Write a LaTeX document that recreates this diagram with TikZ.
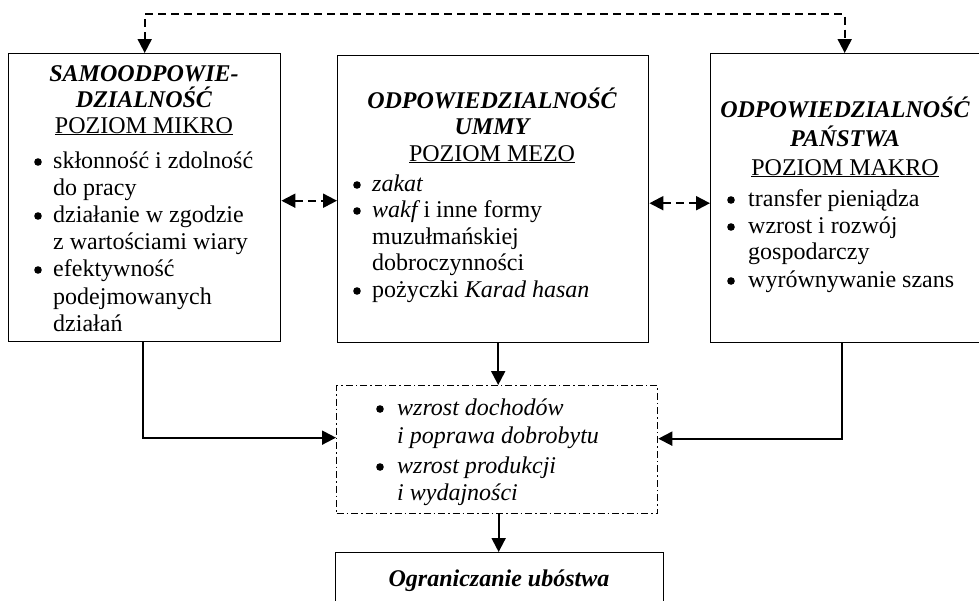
\documentclass[tikz,border=0pt]{standalone}
\usepackage{fontspec}
\setmainfont{Liberation Serif}
\usetikzlibrary{arrows.meta}
\newcommand\fs{\fontsize{24}{27}\selectfont}
\begin{document}
\begin{tikzpicture}[x=1pt,y=-1pt,
  box/.style={draw, line width=1.4pt, inner sep=0, anchor=north west},
  dd/.style={draw, line width=1.3pt, dash pattern=on 7pt off 3pt on 1.5pt off 3pt, inner sep=0, anchor=north west},
  tl/.style={font=\fs\bfseries\itshape, anchor=base, inner sep=0},
  sub/.style={font=\fs, anchor=base, inner sep=0},
  ln/.style={font=\fs, anchor=base west, inner sep=0},
  dot/.style={fill=black},
  conn/.style={line width=2pt, -{Triangle[length=14pt,width=14pt]}},
  dsh/.style={line width=2pt, dash pattern=on 8pt off 5pt, {Triangle[length=14pt,width=14pt]}-{Triangle[length=14pt,width=14pt]}}]
\useasboundingbox (0,0) rectangle (979,600);
\clip (0,0) rectangle (979,600);
% boxes
\node[box, minimum width=272, minimum height=288] (L) at (8,53) {};
\node[box, minimum width=311, minimum height=287] (M) at (337,55) {};
\node[box, minimum width=280, minimum height=289] (R) at (710,53) {};
\node[dd, minimum width=321, minimum height=128] (D) at (336,385) {};
\node[box, minimum width=328, minimum height=70] (B) at (335,552) {};
% left texts
\node[tl] (l1) at (144,81) {SAMOODPOWIE-};
\node[tl] (l2) at (144,107) {DZIALNOŚĆ};
\node[sub] (l3) at (144,133) {\underline{POZIOM MIKRO}};
\node[ln] (l4) at (53,168) {skłonność i zdolność};
\node[ln] (l5) at (53,195) {do pracy};
\node[ln] (l6) at (53,222) {działanie w zgodzie};
\node[ln] (l7) at (53,249) {z wartościami wiary};
\node[ln] (l8) at (53,276) {efektywność};
\node[ln] (l9) at (53,304) {podejmowanych};
\node[ln] (l10) at (53,331) {działań};
% middle texts
\node[tl] (m1) at (492,108) {ODPOWIEDZIALNOŚĆ};
\node[tl] (m2) at (492,134) {UMMY};
\node[sub] (m3) at (492,161) {\underline{POZIOM MEZO}};
\node[ln] (m4) at (372,191) {{\itshape zakat}};
\node[ln] (m5) at (372,217) {{\itshape wakf} i inne formy};
\node[ln] (m6) at (372,244) {muzułmańskiej};
\node[ln] (m7) at (372,270) {dobroczynności};
\node[ln] (m8) at (372,297) {pożyczki {\itshape Karad hasan}};
% right texts
\node[tl] (r1) at (845,117) {ODPOWIEDZIALNOŚĆ};
\node[tl] (r2) at (845,146) {PAŃSTWA};
\node[sub] (r3) at (845,175) {\underline{POZIOM MAKRO}};
\node[ln] (r4) at (748,206) {transfer pieniądza};
\node[ln] (r5) at (748,233) {wzrost i rozwój};
\node[ln] (r6) at (748,259) {gospodarczy};
\node[ln] (r7) at (748,287) {wyrównywanie szans};
% dash-dot texts
\node[ln] (d1) at (397,415) {{\itshape wzrost dochodów}};
\node[ln] (d2) at (397,443) {{\itshape i poprawa dobrobytu}};
\node[ln] (d3) at (397,473) {{\itshape wzrost produkcji}};
\node[ln] (d4) at (397,500) {{\itshape i wydajności}};
% bottom
\node[tl] (b1) at (499,586) {Ograniczanie ubóstwa};
% bullets
\foreach \n in {l4,l6,l8,m4,m5,m8}
  \fill[dot] ([xshift=-15pt,yshift=6pt]\n.base west) circle (3.8pt);
\foreach \n in {r4,r5,r7,d1,d3}
  \fill[dot] ([xshift=-17pt,yshift=6pt]\n.base west) circle (3.8pt);
% connectors
\draw[dsh] (L.north) -- (L.north |- 0,14) -| ([xshift=-6pt]R.north);
\draw[dsh] ([yshift=-3pt]L.east) -- ([yshift=-3pt]L.east -| M.west);
\draw[dsh] ([yshift=-4pt]M.east) -- ([yshift=-4pt]M.east -| R.west);
\draw[conn] ([xshift=-2pt]L.south) |- ([yshift=12pt]D.west);
\draw[conn] ([xshift=-9pt]R.south) |- ([yshift=11pt]D.east);
\draw[conn] ([xshift=5pt]M.south) -- ([xshift=5pt]M.south |- D.north);
\draw[conn] ([xshift=1.5pt]D.south) -- ([xshift=1.5pt]D.south |- B.north);
\end{tikzpicture}
\end{document}
